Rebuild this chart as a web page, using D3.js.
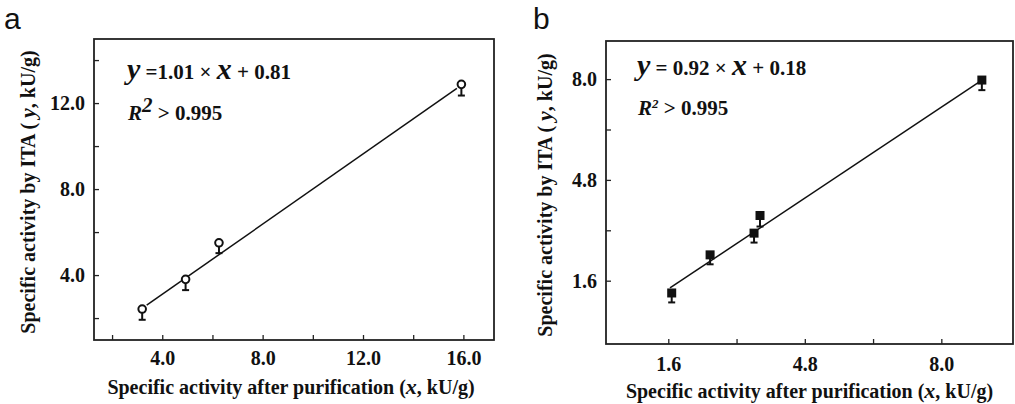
<!DOCTYPE html>
<html>
<head>
<meta charset="utf-8">
<script src="https://cdn.jsdelivr.net/npm/d3@7"></script>
<style>
  body { margin: 0; background: #fff; }
</style>
</head>
<body>
<div id="chart"></div>
<script>
// panel a
var aX = [3.2, 4.93, 6.26, 15.92];
var aY = [2.42, 3.8, 5.5, 12.87];
var aErr = [0.5, 0.5, 0.48, 0.52];
var aFitX = [3.38, 15.74];
var aFitY = [2.6, 12.68];
var aMajor = [4, 8, 12, 16];
var aMinorX = [2, 6, 10, 14];
var aMajorY = [4, 8, 12];
var aMinorY = [2, 6, 10, 14];

// panel b
var bX = [1.68, 2.58, 3.61, 3.75, 8.95];
var bY = [1.21, 2.42, 3.11, 3.67, 7.97];
var bErr = [0.3, 0.3, 0.3, 0.35, 0.32];
var bFitX = [1.64, 8.9];
var bFitY = [1.37, 7.92];
var bMajor = [1.6, 4.8, 8.0];
var bMinor = [3.2, 6.4];

var SERIF = "'Liberation Serif', 'Times New Roman', serif";
var W = 1015, H = 404;
var svg = d3.select("#chart").append("svg")
    .attr("width", W).attr("height", H);

function serif(sel, size) {
    return sel.style("font-family", SERIF).style("font-weight", "bold")
        .style("font-size", size + "px").attr("fill", "#111");
}

function panel(opt) {
    var x = d3.scaleLinear().domain(opt.xDomain).range([opt.left, opt.right]);
    var y = d3.scaleLinear().domain(opt.yDomain).range([opt.bottom, opt.top]);
    var g = svg.append("g");

    g.append("g")
        .attr("transform", `translate(0,${opt.bottom})`)
        .call(d3.axisBottom(x)
            .tickValues(opt.majorX.concat(opt.minorX))
            .tickSize(-5).tickPadding(opt.xPad)
            .tickFormat(v => opt.majorX.indexOf(v) >= 0 ? d3.format(".1f")(v) : ""));
    g.append("g")
        .attr("transform", `translate(${opt.left},0)`)
        .call(d3.axisLeft(y)
            .tickValues(opt.majorY.concat(opt.minorY))
            .tickSize(-5).tickPadding(9)
            .tickFormat(v => opt.majorY.indexOf(v) >= 0 ? d3.format(".1f")(v) : ""));
    g.selectAll(".domain").remove();
    g.selectAll(".tick line").attr("stroke", "#222").attr("stroke-width", 1.3);
    serif(g.selectAll(".tick text"), 20);

    // frame
    g.append("rect")
        .attr("x", opt.left).attr("y", opt.top)
        .attr("width", opt.right - opt.left).attr("height", opt.bottom - opt.top)
        .attr("fill", "none").attr("stroke", "#222").attr("stroke-width", 1.8);

    // fit line
    g.append("line")
        .attr("x1", x(opt.fitX[0])).attr("y1", y(opt.fitY[0]))
        .attr("x2", x(opt.fitX[1])).attr("y2", y(opt.fitY[1]))
        .attr("stroke", "#111").attr("stroke-width", 1.5);

    var pts = opt.xs.map((v, i) => ({ x: v, y: opt.ys[i], e: opt.errs[i] }));

    // error bars (lower half only)
    g.selectAll(".err").data(pts).enter().append("line")
        .attr("x1", d => x(d.x)).attr("x2", d => x(d.x))
        .attr("y1", d => y(d.y)).attr("y2", d => y(d.y - d.e))
        .attr("stroke", "#111").attr("stroke-width", 2);
    g.selectAll(".cap").data(pts).enter().append("line")
        .attr("x1", d => x(d.x) - 3.5).attr("x2", d => x(d.x) + 3.5)
        .attr("y1", d => y(d.y - d.e)).attr("y2", d => y(d.y - d.e))
        .attr("stroke", "#111").attr("stroke-width", 2);

    if (opt.marker === "circle") {
        g.selectAll(".pt").data(pts).enter().append("circle")
            .attr("cx", d => x(d.x)).attr("cy", d => y(d.y)).attr("r", 3.8)
            .attr("fill", "#fff").attr("stroke", "#111").attr("stroke-width", 2);
    } else {
        g.selectAll(".pt").data(pts).enter().append("rect")
            .attr("x", d => x(d.x) - 4.5).attr("y", d => y(d.y) - 4.5)
            .attr("width", 9).attr("height", 9).attr("fill", "#111");
    }

    // axis titles
    var xt = serif(g.append("text"), 20)
        .attr("x", (opt.left + opt.right) / 2 + opt.xTitleShift).attr("y", opt.xTitleY)
        .attr("text-anchor", "middle");
    xt.append("tspan").text("Specific activity after purification (");
    xt.append("tspan").style("font-style", "italic").style("font-size", "22px").text("x");
    xt.append("tspan").text(", kU/g)");

    var yt = serif(g.append("text"), 20)
        .attr("transform", `translate(${opt.yTitleX},${opt.yTitleMid}) rotate(-90)`)
        .attr("text-anchor", "middle");
    yt.append("tspan").text("Specific activity by ITA ( ");
    yt.append("tspan").style("font-style", "italic").style("font-size", "22px").text("y");
    yt.append("tspan").text(", kU/g)");

    // panel letter
    g.append("text")
        .attr("x", opt.letterX).attr("y", 29)
        .style("font-family", "'Liberation Sans', Arial, sans-serif")
        .style("font-size", "30px").attr("fill", "#111").text(opt.letter);

    return { g: g, x: x, y: y };
}

var pa = panel({
    left: 94, right: 494, top: 39, bottom: 340,
    xDomain: [1.28, 17.22], yDomain: [0.98, 14.98],
    majorX: aMajor, minorX: aMinorX, majorY: aMajorY, minorY: aMinorY,
    xs: aX, ys: aY, errs: aErr, fitX: aFitX, fitY: aFitY,
    marker: "circle", xPad: 11,
    xTitleY: 394, xTitleShift: -3, yTitleX: 35, yTitleMid: 192,
    letter: "a", letterX: 4
});

var pb = panel({
    left: 606, right: 1013, top: 41, bottom: 344,
    xDomain: [0.14, 9.68], yDomain: [-0.41, 9.21],
    majorX: bMajor, minorX: bMinor, majorY: bMajor, minorY: bMinor,
    xs: bX, ys: bY, errs: bErr, fitX: bFitX, fitY: bFitY,
    marker: "square", xPad: 13,
    xTitleY: 398, xTitleShift: 0, yTitleX: 552, yTitleMid: 195,
    letter: "b", letterX: 533
});

// equation labels
function equation(g, x0, y0, y1, eq, supSize, supDy) {
    var t = serif(g.append("text"), 21).attr("x", x0).attr("y", y0);
    t.append("tspan").style("font-style", "italic").style("font-size", "30px").text("y");
    t.append("tspan").text(eq[0]);
    t.append("tspan").style("font-style", "italic").style("font-size", "30px").text("x");
    t.append("tspan").text(eq[1]);

    var r = serif(g.append("text"), 21).attr("x", x0 + 1).attr("y", y1);
    r.append("tspan").style("font-style", "italic").text("R");
    r.append("tspan").attr("dy", -supDy).style("font-size", supSize + "px").style("font-style", "italic").text("2");
    r.append("tspan").attr("dy", supDy).text(" > 0.995");
}
equation(pa.g, 127, 79, 120, [" =1.01 \u00d7 ", " + 0.81"], 21, 8);
equation(pb.g, 637, 75, 115, [" = 0.92 \u00d7 ", " + 0.18"], 13, 7);
</script>
</body>
</html>
